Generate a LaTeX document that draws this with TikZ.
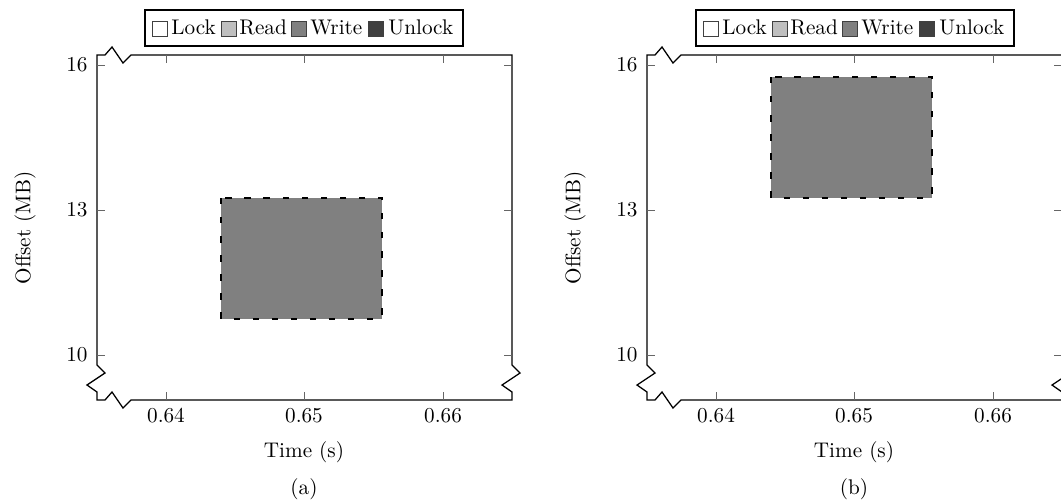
\documentclass[tikz,border=0pt]{standalone}
\begin{document}
\begin{tikzpicture}[x=0.4717pt, y=-0.4717pt,
    frame/.style={line width=0.6pt},
    tickmark/.style={line width=0.4pt, black!60},
    writebox/.style={fill=black!50, draw=black, thick, dash pattern=on 3pt off 6pt},
    legsq/.style={draw=black!75, line width=0.4pt},
    lbl/.style={inner sep=0pt}]

    \useasboundingbox (0,0) rectangle (1061,502);

    % (a)
    \draw [writebox] (221,198) rectangle (382,319);

    \draw [frame] (97,55) -- (105,55) -- (112,47) -- (123,63) -- (131,55) -- (512,55)
        -- (512,365) -- (520,373) -- (502,385) -- (512,392) -- (512,400)
        -- (131,400) -- (123,408) -- (112,392) -- (105,400) -- (97,400)
        -- (97,392) -- (87,385) -- (105,373) -- (97,365) -- cycle;

    \draw [tickmark] (166,400) -- (166,392) (304,400) -- (304,392) (443,400) -- (443,392);
    \draw [tickmark] (166,55) -- (166,63) (304,55) -- (304,63) (443,55) -- (443,63);
    \draw [tickmark] (97,65) -- (105,65) (97,210) -- (105,210) (97,355) -- (105,355);
    \draw [tickmark] (512,65) -- (504,65) (512,210) -- (504,210) (512,355) -- (504,355);

    \node [lbl, anchor=east] (a-y16) at (88,65) {16};
    \node [lbl, anchor=east] (a-y13) at (88,210) {13};
    \node [lbl, anchor=east] (a-y10) at (88,355) {10};
    \node [lbl, anchor=base] (a-x64) at (166,422) {0.64};
    \node [lbl, anchor=base] (a-x65) at (304,422) {0.65};
    \node [lbl, anchor=base] (a-x66) at (443,422) {0.66};

    \node [lbl] (a-xlab) at (304,452) {Time (s)};
    \node [lbl, rotate=90] (a-ylab) at (25,228) {Offset (MB)};
    \node [lbl] (a-cap) at (304,489) {(a)};

    \draw [frame] (145,10) rectangle (463,46);
    \draw [legsq, fill=white] (152,21) rectangle (167,36);
    \node [lbl, anchor=base west] (a-lock) at (171,34.5) {Lock};
    \draw [legsq, fill=black!25] (221,21) rectangle (236,36);
    \node [lbl, anchor=base west] (a-read) at (239,34.5) {Read};
    \draw [legsq, fill=black!50] (291,21) rectangle (306,36);
    \node [lbl, anchor=base west] (a-write) at (310,34.5) {Write};
    \draw [legsq, fill=black!75] (368,21) rectangle (383,36);
    \node [lbl, anchor=base west] (a-unlock) at (388,34.5) {Unlock};

    % (b)
    \draw [writebox] (771,77) rectangle (932,198);

    \draw [frame] (647,55) -- (655,55) -- (662,47) -- (673,63) -- (681,55) -- (1062,55)
        -- (1062,365) -- (1070,373) -- (1052,385) -- (1062,392) -- (1062,400)
        -- (681,400) -- (673,408) -- (662,392) -- (655,400) -- (647,400)
        -- (647,392) -- (637,385) -- (655,373) -- (647,365) -- cycle;

    \draw [tickmark] (716,400) -- (716,392) (854,400) -- (854,392) (993,400) -- (993,392);
    \draw [tickmark] (716,55) -- (716,63) (854,55) -- (854,63) (993,55) -- (993,63);
    \draw [tickmark] (647,65) -- (655,65) (647,210) -- (655,210) (647,355) -- (655,355);
    \draw [tickmark] (1062,65) -- (1054,65) (1062,210) -- (1054,210) (1062,355) -- (1054,355);

    \node [lbl, anchor=east] (b-y16) at (638,65) {16};
    \node [lbl, anchor=east] (b-y13) at (638,210) {13};
    \node [lbl, anchor=east] (b-y10) at (638,355) {10};
    \node [lbl, anchor=base] (b-x64) at (716,422) {0.64};
    \node [lbl, anchor=base] (b-x65) at (854,422) {0.65};
    \node [lbl, anchor=base] (b-x66) at (993,422) {0.66};

    \node [lbl] (b-xlab) at (854,452) {Time (s)};
    \node [lbl, rotate=90] (b-ylab) at (575,228) {Offset (MB)};
    \node [lbl] (b-cap) at (854,489) {(b)};

    \draw [frame] (696,10) rectangle (1014,46);
    \draw [legsq, fill=white] (703,21) rectangle (718,36);
    \node [lbl, anchor=base west] (b-lock) at (722,34.5) {Lock};
    \draw [legsq, fill=black!25] (772,21) rectangle (787,36);
    \node [lbl, anchor=base west] (b-read) at (790,34.5) {Read};
    \draw [legsq, fill=black!50] (842,21) rectangle (857,36);
    \node [lbl, anchor=base west] (b-write) at (861,34.5) {Write};
    \draw [legsq, fill=black!75] (919,21) rectangle (934,36);
    \node [lbl, anchor=base west] (b-unlock) at (939,34.5) {Unlock};

\end{tikzpicture}
\end{document}
